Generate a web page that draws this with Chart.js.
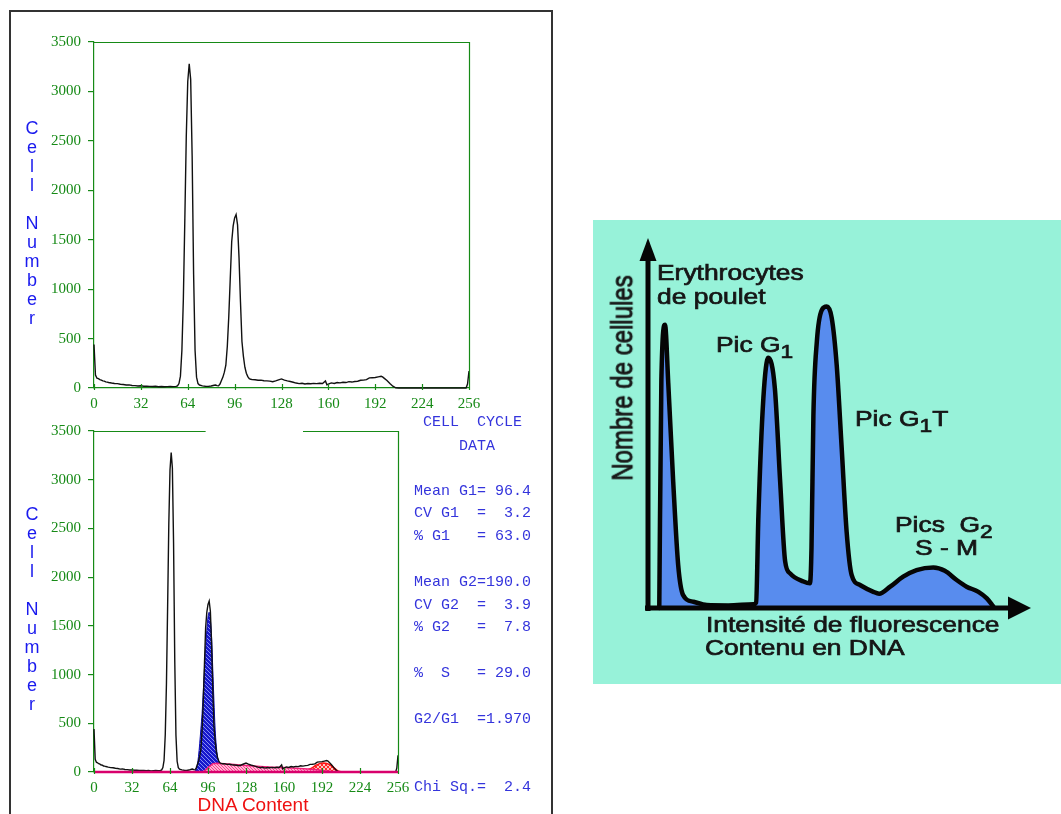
<!DOCTYPE html>
<html><head><meta charset="utf-8">
<script src="https://cdn.jsdelivr.net/npm/chart.js@4.4.1/dist/chart.umd.min.js"></script>
<style>
html,body{margin:0;padding:0;background:#fff}
body{width:1061px;height:814px;position:relative;overflow:hidden}
canvas{position:absolute}
#frame{position:absolute;left:9px;top:10px;width:544px;height:900px;border:2px solid #333;border-bottom:none;box-sizing:border-box}
#c1{left:0;top:0}
#c2{left:0;top:415px}
#c3{left:593px;top:220px;background:#97f2d9}
.cn{position:absolute;left:21px;width:22px;text-align:center;font:18px/19px "Liberation Sans",Arial,sans-serif;color:#1a1aee}
.dna{position:absolute;left:153px;top:795px;width:200px;text-align:center;font:19px/19px "Liberation Sans",Arial,sans-serif;color:#ee1111}
.cc{position:absolute;left:414px;font:15px/15px "Liberation Mono",monospace;color:#3434dc;white-space:pre}
.fr{position:absolute;font:22px/22px "Liberation Sans",Arial,sans-serif;color:#161616;white-space:nowrap;transform-origin:0 0;transform:scaleX(1.2);-webkit-text-stroke:0.7px #161616}
.sub{font-size:19px;position:relative;top:6px}
.rot{position:absolute;left:623px;top:378px;font:24px/24px "Liberation Sans",Arial,sans-serif;color:#161616;white-space:nowrap;transform-origin:0 0;transform:scaleX(1.2) rotate(-90deg) translate(-50%,-50%);-webkit-text-stroke:0.7px #161616}
</style></head><body>
<div id="frame"></div>
<canvas id="c1" width="560" height="415"></canvas>
<canvas id="c2" width="560" height="399"></canvas>
<canvas id="c3" width="468" height="464"></canvas>

<div class="cn" style="top:119px">C<br>e<br>l<br>l<br>&nbsp;<br>N<br>u<br>m<br>b<br>e<br>r</div>
<div class="cn" style="top:505px">C<br>e<br>l<br>l<br>&nbsp;<br>N<br>u<br>m<br>b<br>e<br>r</div>
<div class="dna">DNA Content</div>
<div id="ccbox"></div>

<div class="fr" style="left:657px;top:262px">Erythrocytes</div>
<div class="fr" style="left:657px;top:286px">de poulet</div>
<div class="fr" style="left:716px;top:334px">Pic G<span class="sub">1</span></div>
<div class="fr" style="left:855px;top:408px">Pic G<span class="sub">1</span>T</div>
<div class="fr" style="left:895px;top:514px">Pics&nbsp;&nbsp;G<span class="sub">2</span></div>
<div class="fr" style="left:915px;top:537px">S - M</div>
<div class="fr" style="left:706px;top:614px">Intensité de fluorescence</div>
<div class="fr" style="left:705px;top:637px">Contenu en DNA</div>
<div class="rot">Nombre de cellules</div>

<script>
// ---- DNA histogram (channel, cell count) ----
const channels = [0,1,2,3,4,5,6,7,8,9,10,12,14,16,18,20,22,24,26,28,30,32,34,36,38,40,42,44,46,48,50,52,54,56,57,58,59,60,61,62,63,64,65,66,67,68,69,70,71,72,74,76,78,80,82,83,84,85,86,87,88,89,90,91,92,93,94,95,96,97,98,99,100,101,102,103,104,105,106,107,108,110,112,114,116,118,120,122,124,126,128,130,132,134,136,138,140,142,144,146,148,150,152,154,156,158,159,160,162,164,166,168,170,172,174,176,178,180,182,184,186,188,190,192,194,196,197,198,200,202,204,206,208,254,255,256];
const counts   = [440,130,100,95,85,80,72,70,62,60,56,50,45,44,38,36,30,32,26,24,20,22,18,19,16,15,17,13,15,12,14,15,14,16,22,45,120,380,900,1700,2550,3100,3280,3120,2350,1150,380,110,45,30,22,18,16,20,28,30,24,22,40,75,110,160,230,420,720,1100,1480,1640,1720,1755,1650,1320,870,470,320,210,150,115,95,88,85,84,78,80,74,72,70,64,72,82,92,80,72,66,58,50,44,48,40,46,43,47,44,48,46,72,32,40,52,46,56,52,58,55,64,60,66,68,78,80,84,102,104,106,112,118,112,100,75,45,18,2,0,0,40,170];

// ---- fitted components (bottom chart) ----
const g1Ch  = [84,86,87,88,89,90,91,92,93,94,95,96,97,98,99,100,101,102,103,104,105,106,107,108];
const g1Val = [0,20,70,160,290,440,600,820,1060,1270,1450,1590,1640,1560,1390,1060,730,440,265,155,90,50,20,0];
const sCh   = [92,96,100,104,110,118,128,140,150,160,170,180,188,194,200,204];
const sVal  = [0,45,86,90,84,76,66,57,50,45,38,30,22,12,4,0];
const g2Ch  = [176,180,184,187,190,193,196,199,202,205,208];
const g2Val = [0,22,45,70,86,92,88,72,45,15,0];
const baseCh = [0,256];
const baseVal = [0,0];

// ---- axes ----
const xMin = 0, xMax = 256, xStep = 32;
const yMin = 0, yMax = 3500, yStep = 500;

// ---- cell cycle data text ----
const cellCycleLines = [" CELL  CYCLE","     DATA","Mean G1= 96.4","CV G1  =  3.2","% G1   = 63.0","Mean G2=190.0","CV G2  =  3.9","% G2   =  7.8","%  S   = 29.0","G2/G1  =1.970","Chi Sq.=  2.4"];
const cellCycleY = [421.7,445,490,512.7,535.7,581.7,604,626.7,672.7,718,786.7];

// ---- schematic diagram (arbitrary units) ----
const schemX = [2.95,3.5,4.45,5.3,6.6,7.9,9.2,11.9,15.4,21,27.6,28.3,28.9,30.2,31.5,33.2,34.6,35.9,37.2,40.7,42.4,42.8,43.3,44.2,45.5,46.8,48.1,49.4,50.7,52,53.3,55.5,59,60.5,63.4,66.8,70.3,74.7,77.7,80.8,83.4,86.5,88.7,90.4];
const schemY = [0,62,77,61.2,34.3,11.7,3.5,1.7,0.8,0.7,1.0,1.5,25,57,68,59.8,34.3,12.7,9.4,7.2,6.7,16.3,52.4,72.4,81,81.9,78.8,66,43.5,20.7,9,6.25,4.4,3.9,5.8,8.5,10.3,11,10.1,7.6,5.8,4.4,2.6,0.4];

const GREEN = '#168a16';
const zip = (a,b) => a.map((v,i)=>({x:v,y:b[i]}));

// cell cycle text
const box = document.getElementById('ccbox');
cellCycleLines.forEach((s,i)=>{
  const d = document.createElement('div'); d.className='cc';
  d.style.top = (cellCycleY[i]-6.5)+'px'; d.textContent = s; box.appendChild(d);
});

function hatch(bg, fg, size, lw, cross){
  const c = document.createElement('canvas'); c.width = c.height = size;
  const g = c.getContext('2d');
  g.fillStyle = bg; g.fillRect(0,0,size,size);
  g.strokeStyle = fg; g.lineWidth = lw; g.beginPath();
  g.moveTo(-1,-1); g.lineTo(size+1,size+1);
  g.moveTo(size-1,-1); g.lineTo(size+1,1);
  g.moveTo(-1,size-1); g.lineTo(1,size+1);
  if (cross){
    g.moveTo(-1,size+1); g.lineTo(size+1,-1);
    g.moveTo(-1,1); g.lineTo(1,-1);
    g.moveTo(size-1,size+1); g.lineTo(size+1,size-1);
  }
  g.stroke();
  return g.createPattern(c,'repeat');
}

const framePlugin = {
  id:'frame',
  afterDraw(chart, args, opts){
    const {ctx, chartArea:a} = chart; const x = chart.scales.x;
    ctx.save(); ctx.strokeStyle = GREEN; ctx.lineWidth = 1.2;
    ctx.beginPath();
    ctx.moveTo(a.right+0.5, a.bottom); ctx.lineTo(a.right+0.5, a.top);
    if (opts.gap){
      const g0 = x.getPixelForValue(opts.gap[0]), g1 = x.getPixelForValue(opts.gap[1]);
      ctx.moveTo(a.left, a.top+0.5); ctx.lineTo(g0, a.top+0.5);
      ctx.moveTo(g1, a.top+0.5); ctx.lineTo(a.right+1, a.top+0.5);
    } else {
      ctx.moveTo(a.left, a.top+0.5); ctx.lineTo(a.right+1, a.top+0.5);
    }
    x.ticks.forEach(t=>{
      const px = Math.round(x.getPixelForValue(t.value))+0.5;
      ctx.moveTo(px, a.bottom+2); ctx.lineTo(px, a.bottom-4);
    });
    ctx.stroke(); ctx.restore();
  }
};

function histOptions(padding, yw, xh, gap){
  const tickFont = {family:'"Liberation Serif", "Times New Roman", serif', size:15};
  return {
    responsive:false, animation:false, devicePixelRatio:1,
    layout:{padding},
    plugins:{legend:{display:false}, tooltip:{enabled:false}, frame:{gap}},
    scales:{
      x:{type:'linear', min:xMin, max:xMax,
         ticks:{stepSize:xStep, color:GREEN, font:tickFont, padding:4, maxRotation:0, autoSkip:false, callback:v=>String(v)},
         grid:{display:true, drawOnChartArea:false, drawTicks:true, tickLength:3, color:'rgba(0,0,0,0)'},
         border:{color:GREEN, width:1.2},
         afterFit(s){ s.height = xh; }},
      y:{type:'linear', min:yMin, max:yMax,
         ticks:{stepSize:yStep, color:GREEN, font:tickFont, padding:7, callback:v=>String(v)},
         grid:{drawOnChartArea:false, drawTicks:true, tickLength:6, color:GREEN, lineWidth:1.2},
         border:{color:GREEN, width:1.2},
         afterFit(s){ s.width = yw; }}
    }
  };
}

// Top chart
new Chart(document.getElementById('c1'), {
  type:'line',
  data:{datasets:[{data:zip(channels,counts), borderColor:'#111', borderWidth:1.4, pointRadius:0, tension:0, fill:false, clip:false}]},
  options:histOptions({top:42,right:91,bottom:0,left:0}, 94, 27, null),
  plugins:[framePlugin]
});

// Bottom chart
new Chart(document.getElementById('c2'), {
  type:'line',
  data:{datasets:[
    {data:zip(baseCh,baseVal), borderColor:'#d8006c', borderWidth:2.5, pointRadius:0, fill:false, clip:false, order:0},
    {data:zip(channels,counts), borderColor:'#111', borderWidth:1.4, pointRadius:0, tension:0, fill:false, clip:false, order:1},
    {data:zip(sCh,sVal), borderColor:'#f0207a', borderWidth:1.5, pointRadius:0, fill:'origin', backgroundColor:hatch('#ffb8d4','#ff3d8f',3,1,false), clip:false, order:2},
    {data:zip(g2Ch,g2Val), borderColor:'#ff1010', borderWidth:1.5, pointRadius:0, tension:0.3, fill:'origin', backgroundColor:hatch('#ffc4c4','#ff2a2a',4,1,true), clip:false, order:3},
    {data:zip(g1Ch,g1Val), borderColor:'#0a0ab0', borderWidth:1, pointRadius:0, tension:0.3, fill:'origin', backgroundColor:hatch('#1818cc','rgba(170,180,255,0.75)',4,1,false), clip:false, order:4}
  ]},
  options:histOptions({top:11,right:162,bottom:0,left:0}, 94, 42, [94,176]),
  plugins:[framePlugin]
});

// Schematic chart
const arrowPlugin = {id:'arrows', afterDatasetsDraw(chart){
  const {ctx} = chart; const x = chart.scales.x, y = chart.scales.y;
  const x0 = x.getPixelForValue(0), y0 = y.getPixelForValue(0);
  const yTop = y.getPixelForValue(100), xEnd = x.getPixelForValue(100);
  ctx.save(); ctx.strokeStyle = '#060606'; ctx.fillStyle = '#060606'; ctx.lineWidth = 5;
  ctx.beginPath();
  ctx.moveTo(x0, y0+3); ctx.lineTo(x0, yTop+16);
  ctx.moveTo(x0-3, y0); ctx.lineTo(xEnd-18, y0);
  ctx.stroke();
  ctx.beginPath(); ctx.moveTo(x0, yTop-2); ctx.lineTo(x0-8.5, yTop+21); ctx.lineTo(x0+8.5, yTop+21); ctx.closePath(); ctx.fill();
  ctx.beginPath(); ctx.moveTo(xEnd+1, y0); ctx.lineTo(xEnd-22, y0-11.5); ctx.lineTo(xEnd-22, y0+11.5); ctx.closePath(); ctx.fill();
  ctx.restore();
}};
new Chart(document.getElementById('c3'), {
  type:'line',
  data:{datasets:[{data:zip(schemX,schemY), borderColor:'#050505', borderWidth:4.5, borderJoinStyle:'round', borderCapStyle:'round',
    backgroundColor:'#588cee', fill:'origin', pointRadius:0, cubicInterpolationMode:'monotone', clip:false}]},
  options:{responsive:false, animation:false, devicePixelRatio:1,
    layout:{padding:{left:55,right:31,top:20,bottom:76}},
    plugins:{legend:{display:false}, tooltip:{enabled:false}},
    scales:{x:{type:'linear',min:0,max:100,display:false}, y:{min:0,max:100,display:false}}},
  plugins:[arrowPlugin]
});
</script>
</body></html>
